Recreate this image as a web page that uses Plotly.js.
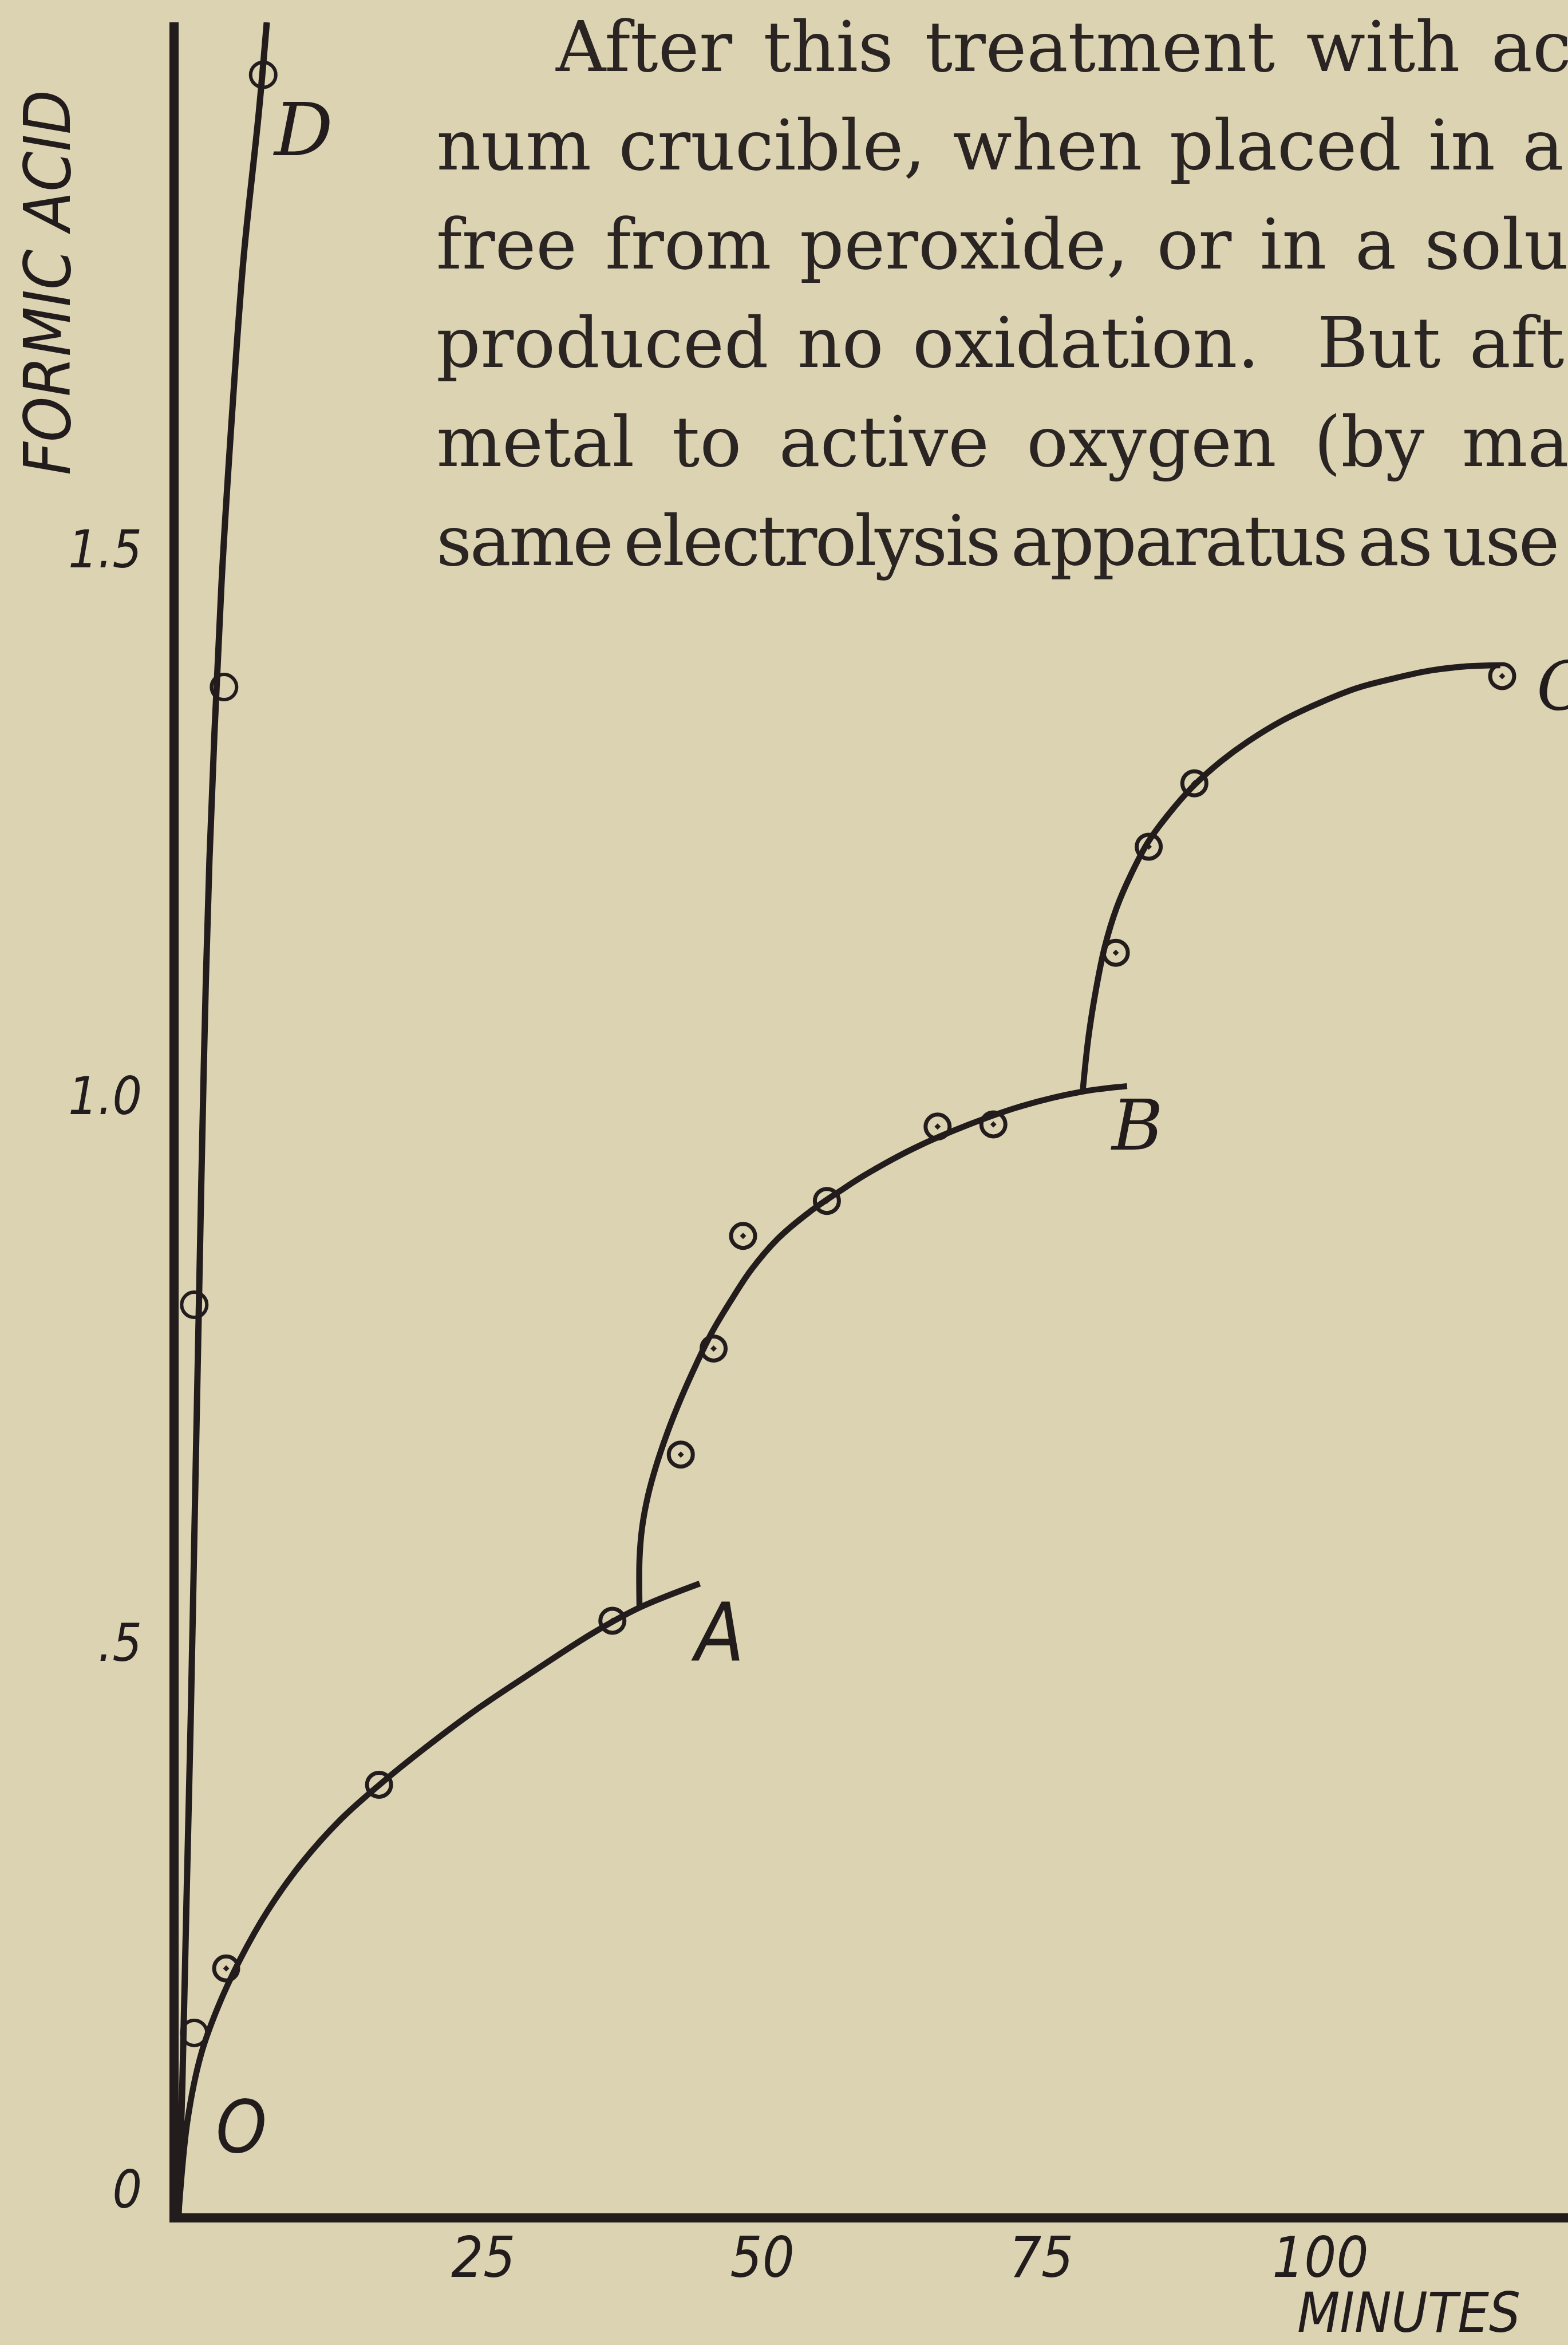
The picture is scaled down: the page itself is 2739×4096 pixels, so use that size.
<!DOCTYPE html>
<html>
<head>
<meta charset="utf-8">
<script src="https://cdn.plot.ly/plotly-3.0.1.min.js"></script>
<style>
  html, body { margin: 0; padding: 0; background: #dcd3b3; }
  #chart { width: 2739px; height: 4096px; }
</style>
</head>
<body>
<div id="chart"></div>
<script>
// Formic acid formed against time (minutes).
// O–A: first run; A–B and B–C: runs after re-activating the metal; D: the fast run.

// Smooth drawn curves
const curveOAMinutes = [0, 0.8, 2.0, 3.5, 5.5, 8.0, 11.0, 14.5, 18.0, 22.0, 27.0, 32.0, 37.0, 41.3, 46.7];
const curveOAAcid    = [0, 0.085, 0.145, 0.188, 0.232, 0.277, 0.320, 0.360, 0.392, 0.425, 0.463, 0.497, 0.530, 0.554, 0.576];

const curveABMinutes = [41.30, 41.30, 41.53, 42.05, 42.80, 43.83, 45.04, 46.40, 47.80, 49.44, 51.31, 53.65, 56.55, 59.26, 61.55, 65.86, 70.86, 75.63, 81.01, 84.99];
const curveABAcid    = [0.554, 0.598, 0.627, 0.656, 0.684, 0.715, 0.746, 0.777, 0.806, 0.834, 0.863, 0.891, 0.916, 0.935, 0.950, 0.974, 0.996, 1.013, 1.026, 1.031];

const curveBCMinutes = [81.01, 81.52, 82.18, 82.98, 84.05, 85.36, 86.86, 88.73, 90.88, 93.40, 95.79, 99.02, 102.34, 105.57, 108.93, 112.11, 115.48, 118.43];
const curveBCAcid    = [1.026, 1.075, 1.118, 1.158, 1.194, 1.225, 1.254, 1.280, 1.305, 1.328, 1.346, 1.366, 1.382, 1.395, 1.404, 1.411, 1.415, 1.416];

const curveDMinutes  = [0, 0.33, 0.70, 1.08, 1.45, 1.82, 2.25, 2.76, 3.84, 4.77, 5.80, 7.20, 7.90];
const curveDAcid     = [0, 0.116, 0.283, 0.450, 0.641, 0.832, 1.046, 1.237, 1.490, 1.643, 1.786, 1.923, 2.004];

// Observed points
const obsOAMinutes = [4.26, 17.96, 38.87];
const obsOAAcid    = [0.224, 0.392, 0.542];
const obsABMinutes = [45.0, 47.94, 50.58, 58.09, 68.01, 73.01];
const obsABAcid    = [0.694, 0.791, 0.894, 0.926, 0.994, 0.996];
const obsBCMinutes = [83.98, 86.93, 91.02, 118.6];
const obsBCAcid    = [1.153, 1.250, 1.308, 1.406];
const obsDMinutes  = [1.40, 1.40, 4.07, 7.58];
const obsDAcid     = [0.165, 0.831, 1.396, 1.956];

// Axis ticks
const minuteTicks     = [25, 50, 75, 100];
const minuteTickText  = ['25', '50', '75', '100'];
const acidTicks       = [0, 0.5, 1.0, 1.5];
const acidTickText    = ['0', '.5', '1.0', '1.5'];

// Curve letters
const curveLetters = [
  { text: 'O', x: 5.61,  y: 0.079, serif: false, size: 126 },
  { text: 'A', x: 48.32, y: 0.531, serif: false, size: 140 },
  { text: 'B', x: 85.87, y: 0.995, serif: true,  size: 122 },
  { text: 'D', x: 11.18, y: 1.906, serif: true,  size: 128 }
];
const letterC = { text: 'C', x: 121.6, y: 1.397 };

// Text printed above the figure
const paragraphLines = [
  'After this treatment with ac',
  'num crucible, when placed in a',
  'free from peroxide, or in a solu',
  'produced no oxidation.\u00a0 But aft',
  'metal to active oxygen (by ma',
  'same electrolysis apparatus as use'
];
// justified setting: extra word / letter spacing per line (px)
const paragraphSpacing = [
  { word: 16, letter: 0 },
  { word: 9,  letter: 0 },
  { word: 11, letter: 0 },
  { word: 12, letter: 0 },
  { word: 27, letter: 0 },
  { word: -14, letter: -3.6 }
];

const INK = '#221c1d';
const PAPER = '#dcd3b3';
const HAND = 'DejaVu Sans Condensed, DejaVu Sans, sans-serif';
const HAND_SERIF = 'DejaVu Serif, Liberation Serif, serif';
const BOOK = 'DejaVu Serif, Liberation Serif, serif';

const W = 2739, H = 4096;
const M = { l: 312, r: 0, t: 39, b: 230 };
const plotW = W - M.l - M.r, plotH = H - M.t - M.b;
const px2paperX = px => (px - M.l) / plotW;
const px2paperY = py => (H - M.b - py) / plotH;

function curveTrace(x, y, width) {
  return { type: 'scatter', mode: 'lines', x, y, hoverinfo: 'skip',
           line: { color: INK, width, shape: 'spline', smoothing: 1 } };
}
function pointTrace(x, y, symbol, size, lw) {
  return { type: 'scatter', mode: 'markers', x, y, hoverinfo: 'skip',
           marker: { symbol, size, color: INK, line: { color: INK, width: lw } } };
}

const traces = [
  curveTrace(curveOAMinutes, curveOAAcid, 10.5),
  curveTrace(curveABMinutes, curveABAcid, 10.5),
  curveTrace(curveBCMinutes, curveBCAcid, 10.5),
  curveTrace(curveDMinutes, curveDAcid, 11),
  pointTrace(obsOAMinutes, obsOAAcid, 'circle-open-dot', 42, 7),
  pointTrace(obsABMinutes, obsABAcid, 'circle-open-dot', 42, 7),
  pointTrace(obsBCMinutes, obsBCAcid, 'circle-open-dot', 42, 7),
  pointTrace(obsDMinutes, obsDAcid, 'circle-open', 44, 6)
];

const annotations = [];

curveLetters.forEach(l => annotations.push({
  xref: 'x', yref: 'y', x: l.x, y: l.y, text: l.text, showarrow: false,
  xanchor: 'center', yanchor: 'middle',
  font: { family: l.serif ? HAND_SERIF : HAND, size: l.size, color: INK, style: 'italic' }
}));
annotations.push({
  xref: 'x', yref: 'y', x: letterC.x, y: letterC.y, text: letterC.text, showarrow: false,
  xanchor: 'left', yanchor: 'middle',
  font: { family: HAND_SERIF, size: 118, color: INK, style: 'italic' }
});

// paragraph: first line indented, baselines 172.5 px apart.
// The box is sized from the unspaced text and the text stays centred in it,
// so each line is moved by half of its extra spacing to keep the left edge.
const bookSize = 121;
const baselines = [125, 297, 470, 642, 815, 988];
const firstParagraphIndex = annotations.length;
paragraphLines.forEach((t, i) => {
  const s = paragraphSpacing[i];
  const gaps = (t.match(/[ \u00a0]/g) || []).length;
  const extra = s.word * gaps + s.letter * t.length;
  annotations.push({
    xref: 'paper', yref: 'paper',
    x: px2paperX((i === 0 ? 969 : 761) + extra / 2),
    y: px2paperY(baselines[i] + 0.236 * bookSize),
    xanchor: 'left', yanchor: 'bottom', showarrow: false, borderpad: 0,
    text: t, font: { family: BOOK, size: bookSize, color: '#2a2422' }
  });
});

// spacing rules for the justified lines
const css = paragraphSpacing.map((s, i) =>
  `.annotation[data-index="${firstParagraphIndex + i}"] .annotation-text ` +
  `{ word-spacing: ${s.word}px; letter-spacing: ${s.letter}px; }`).join('\n');
const styleEl = document.createElement('style');
styleEl.textContent = css;
document.head.appendChild(styleEl);

// axis names
annotations.push({
  xref: 'paper', yref: 'paper', x: px2paperX(83), y: px2paperY(494),
  xanchor: 'center', yanchor: 'middle', showarrow: false, textangle: -90,
  text: 'FORMIC ACID', font: { family: HAND, size: 112, color: INK, style: 'italic' }
});
annotations.push({
  xref: 'paper', yref: 'paper', x: px2paperX(2461), y: px2paperY(4040),
  xanchor: 'center', yanchor: 'middle', showarrow: false,
  text: 'MINUTES', font: { family: HAND, size: 96, color: INK, style: 'italic' }
});

const tickFont = { family: HAND, size: 98, color: INK, style: 'italic' };

const layout = {
  width: W, height: H,
  margin: { l: M.l, r: M.r, t: M.t, b: M.b, pad: 0 },
  paper_bgcolor: PAPER, plot_bgcolor: PAPER,
  showlegend: false,
  xaxis: {
    range: [0, 124.5], showgrid: false, zeroline: false,
    showline: true, linecolor: INK, linewidth: 16,
    tickmode: 'array', tickvals: minuteTicks, ticktext: minuteTickText,
    ticks: '', tickfont: tickFont, ticklabelshift: 45, ticklabelstandoff: -23
  },
  yaxis: {
    range: [0, 2.004], showgrid: false, zeroline: false,
    showline: true, linecolor: INK, linewidth: 16,
    tickmode: 'array', tickvals: acidTicks, ticktext: acidTickText,
    ticks: '', tickfont: { ...tickFont, size: 90 }, ticklabelshift: -42, ticklabelstandoff: 30
  },
  annotations
};

Plotly.newPlot('chart', traces, layout, { staticPlot: true, displayModeBar: false });
</script>
</body>
</html>
